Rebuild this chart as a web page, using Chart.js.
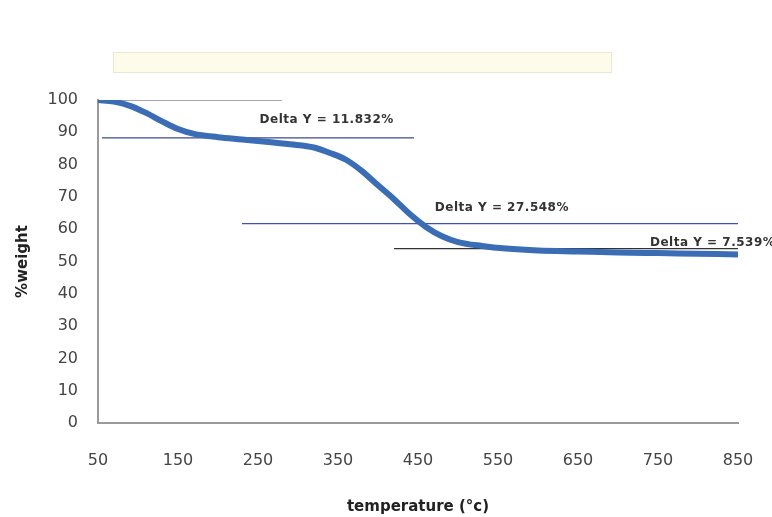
<!DOCTYPE html>
<html>
<head>
<meta charset="utf-8">
<script src="https://cdn.jsdelivr.net/npm/chart.js@4"></script>
<style>
    body { margin: 0; background: #fff; }
    #wrap { position: relative; width: 772px; height: 517px; }
    #band { position: absolute; left: 113px; top: 52px; width: 497px; height: 19px;
            background: #fdfbea; border: 1px solid #ece6d6; }
    canvas { position: absolute; left: 0; top: 0; }
</style>
</head>
<body>
<div id="wrap">
    <div id="band"></div>
    <canvas id="tgaChart" width="772" height="517"></canvas>
</div>
<script>
// curva TGA
const temps = [50, 70, 90, 110, 130, 150, 170, 200, 230, 260, 290, 320, 340, 360, 380, 400, 420, 440, 460, 480, 500, 530, 560, 600, 650, 700, 750, 800, 850];
const weights = [100, 99.5, 98.2, 96.0, 93.4, 91.0, 89.5, 88.5, 87.8, 87.1, 86.3, 85.3, 83.6, 81.5, 78.0, 73.6, 69.3, 64.6, 60.7, 57.8, 56.0, 54.8, 54.0, 53.4, 53.1, 52.8, 52.6, 52.4, 52.2];

// lineas horizontales de los escalones
const stepLevels = [100, 88.3, 61.7, 54.0];
const stepStart = [50, 55, 230, 420];
const stepEnd = [280, 445, 850, 850];
const stepColors = ['#4a4c58', '#3d4a8c', '#4050b8', '#333333'];

// etiquetas Delta Y
const deltaTexts = ['Delta Y = 11.832%', 'Delta Y = 27.548%', 'Delta Y = 7.539%'];
const deltaX = [252, 471, 740];
const deltaY = [93.8, 66.7, 55.9];

const xTicks = [50, 150, 250, 350, 450, 550, 650, 750, 850];

const datasets = [{
    data: temps.map((t, i) => ({ x: t, y: weights[i] })),
    borderColor: '#3a6db5',
    borderWidth: 6,
    pointRadius: 0,
    cubicInterpolationMode: 'monotone',
    order: 0
}];
stepLevels.forEach((lvl, i) => {
    datasets.push({
        data: [{ x: stepStart[i], y: lvl }, { x: stepEnd[i], y: lvl }],
        borderColor: stepColors[i],
        borderWidth: 1.2,
        pointRadius: 0,
        order: 1
    });
});

const deltaLabels = {
    id: 'deltaLabels',
    afterDatasetsDraw(chart) {
        const ctx = chart.ctx;
        const xs = chart.scales.x, ys = chart.scales.y;
        ctx.save();
        ctx.font = 'bold 12px "DejaVu Sans"';
        ctx.letterSpacing = '0.5px';
        ctx.fillStyle = '#333';
        ctx.textBaseline = 'middle';
        deltaTexts.forEach((txt, i) => {
            ctx.fillText(txt, xs.getPixelForValue(deltaX[i]), ys.getPixelForValue(deltaY[i]));
        });
        ctx.restore();
    }
};

new Chart(document.getElementById('tgaChart'), {
    type: 'line',
    data: { datasets: datasets },
    options: {
        responsive: false,
        animation: false,
        layout: { padding: { left: 0, top: 100, right: 34, bottom: 0 } },
        plugins: { legend: { display: false }, tooltip: { enabled: false } },
        scales: {
            x: {
                type: 'linear',
                min: 50,
                max: 850,
                afterBuildTicks: (scale) => { scale.ticks = xTicks.map(v => ({ value: v })); },
                afterFit: (scale) => { scale.height = 94; },
                grid: { display: false, drawTicks: true, tickLength: 26 },
                border: { color: '#9a9a9a', width: 2 },
                ticks: { padding: 2, color: '#444', font: { family: 'DejaVu Sans', size: 16 } },
                title: { display: true, text: 'temperature (°c)', color: '#222',
                         font: { family: 'DejaVu Sans', size: 15, weight: 'bold' }, padding: { top: 0, bottom: 1 } }
            },
            y: {
                min: 0,
                max: 100,
                afterFit: (scale) => { scale.width = 98; },
                grid: { display: false, drawTicks: false },
                border: { color: '#9a9a9a', width: 2 },
                ticks: { stepSize: 10, padding: 20, color: '#444', font: { family: 'DejaVu Sans', size: 16 } },
                title: { display: true, text: '%weight', color: '#222',
                         font: { family: 'DejaVu Sans', size: 15, weight: 'bold' }, padding: { top: 14, bottom: 0 } }
            }
        }
    },
    plugins: [deltaLabels]
});
</script>
</body>
</html>
